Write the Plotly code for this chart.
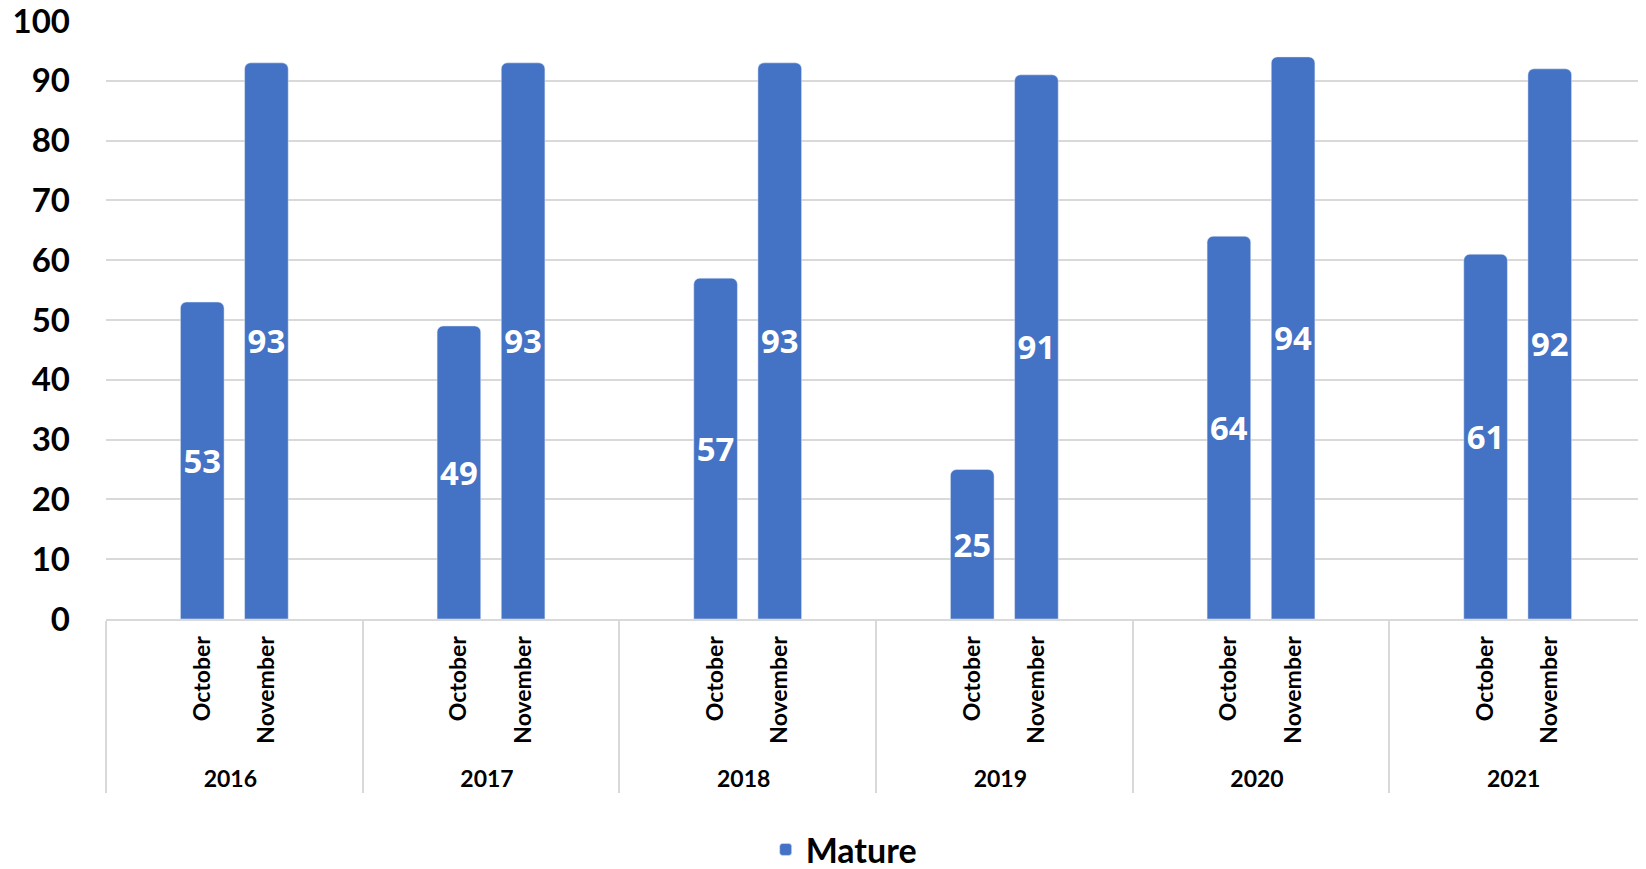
import plotly.graph_objects as go

years = ["2016", "2017", "2018", "2019", "2020", "2021"]
months = ["October", "November"]
# Mature values, October then November for each year
mature = [53, 93, 49, 93, 57, 93, 25, 91, 64, 94, 61, 92]

# each year has four slots: blank, October, November, blank
# (a non-breaking space pads the month labels so the year row sits lower)
pad = "\u00a0"
x_year, x_month, y_vals = [], [], []
for i, yr in enumerate(years):
    slots = [" ", pad + months[0], pad + months[1], "  "]
    vals = [None, mature[2 * i], mature[2 * i + 1], None]
    for s, v in zip(slots, vals):
        x_year.append(yr)
        x_month.append(s)
        y_vals.append(v)

fig = go.Figure()
fig.add_trace(go.Bar(
    x=[x_year, x_month],
    y=y_vals,
    name="Mature",
    marker=dict(color="#4472C4", cornerradius=6),
    width=0.68,
    texttemplate="%{y}",
    textposition="inside",
    insidetextanchor="middle",
    textangle=0,
    textfont=dict(family="Open Sans", size=33, color="white", weight="bold"),
))

# page body adds an 8px offset, so margins are shifted by 8
fig.update_layout(
    width=1646,
    height=869,
    margin=dict(l=98, r=8, t=13, b=258, autoexpand=False),
    plot_bgcolor="white",
    paper_bgcolor="white",
    font=dict(family="Lato", color="black"),
    showlegend=True,
    legend=dict(
        orientation="h",
        x=0.479, xanchor="center",
        y=-0.386, yanchor="middle",
        font=dict(family="Lato", size=34, weight="bold"),
    ),
    uniformtext=dict(mode=False),
)
fig.update_yaxes(
    range=[0, 100],
    dtick=10,
    showgrid=True,
    gridcolor="#d9d9d9",
    gridwidth=2,
    zeroline=False,
    showline=False,
    automargin=False,
    ticklabeloverflow="allow",
    tickfont=dict(family="Lato", size=33, weight="bold"),
    ticklabelstandoff=35,
)
fig.update_xaxes(
    type="multicategory",
    automargin=False,
    showline=True,
    linecolor="#d9d9d9",
    linewidth=2,
    showdividers=True,
    dividercolor="#d9d9d9",
    dividerwidth=2,
    tickangle=-90,
    ticklabelstandoff=6,
    tickfont=dict(family="Lato", size=23, weight="bold"),
)

fig.write_html("out.html")
